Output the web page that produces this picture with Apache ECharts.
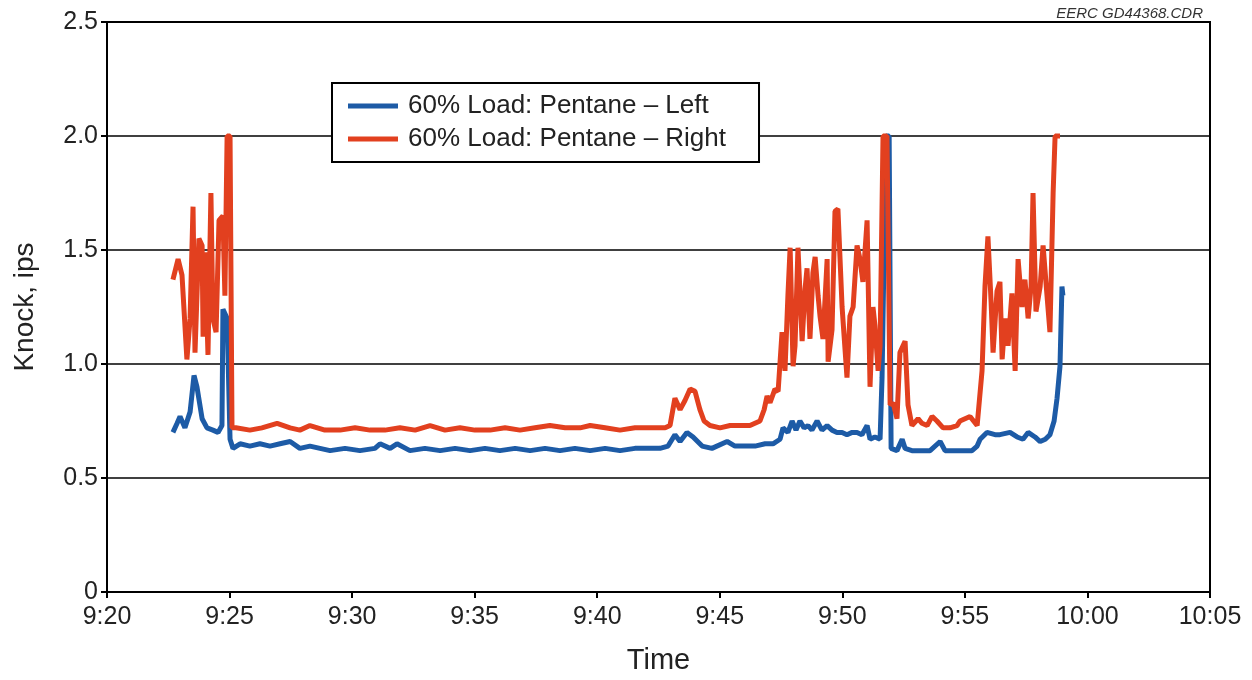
<!DOCTYPE html>
<html>
<head>
<meta charset="utf-8">
<script src="https://cdn.jsdelivr.net/npm/echarts@6/dist/echarts.min.js"></script>
<style>
  html, body { margin: 0; padding: 0; background: #ffffff; }
  #chart { width: 1252px; height: 680px; }
</style>
</head>
<body>
<div id="chart"></div>
<script>
// Time axis: minutes after 9:20
const xTickLabels = ['9:20', '9:25', '9:30', '9:35', '9:40', '9:45', '9:50', '9:55', '10:00', '10:05'];
const yTickLabels = ['0', '0.5', '1.0', '1.5', '2.0', '2.5'];

const seriesNames = ['60% Load: Pentane \u2013 Left', '60% Load: Pentane \u2013 Right'];

// Left-side knock sensor
const leftTime = [
  2.69, 2.86, 2.98, 3.18, 3.39, 3.55, 3.67, 3.88, 4.08, 4.32, 4.53, 4.69, 4.73, 4.90, 5.02, 5.14,
  5.43, 5.83, 6.24, 6.65, 7.06, 7.47, 7.87, 8.28, 8.69, 9.10, 9.71, 10.32, 10.93, 11.14, 11.55, 11.83,
  12.36, 12.97, 13.59, 14.20, 14.81, 15.42, 16.03, 16.65, 17.26, 17.87, 18.48, 19.09, 19.71, 20.32,
  20.93, 21.54, 22.15, 22.56, 22.89, 23.17, 23.38, 23.66, 23.91, 24.28, 24.68, 25.30, 25.62, 25.95,
  26.44, 26.85, 27.17, 27.46, 27.58, 27.78, 27.95, 28.11, 28.27, 28.44, 28.60, 28.76, 28.97, 29.17,
  29.38, 29.58, 29.78, 29.99, 30.19, 30.40, 30.60, 30.80, 31.01, 31.13, 31.33, 31.54, 31.62, 31.78,
  31.91, 31.99, 32.23, 32.44, 32.56, 32.84, 33.17, 33.58, 33.99, 34.19, 34.60, 35.01, 35.29, 35.50,
  35.62, 35.90, 36.23, 36.43, 36.84, 37.13, 37.37, 37.58, 37.86, 38.07, 38.28, 38.47, 38.64, 38.76,
  38.88, 38.96, 39.00
];
const leftKnock = [
  0.70, 0.74, 0.77, 0.72, 0.79, 0.95, 0.90, 0.76, 0.72, 0.71, 0.70, 0.73, 1.24, 1.20, 0.67, 0.63,
  0.65, 0.64, 0.65, 0.64, 0.65, 0.66, 0.63, 0.64, 0.63, 0.62, 0.63, 0.62, 0.63, 0.65, 0.63, 0.65,
  0.62, 0.63, 0.62, 0.63, 0.62, 0.63, 0.62, 0.63, 0.62, 0.63, 0.62, 0.63, 0.62, 0.63,
  0.62, 0.63, 0.63, 0.63, 0.64, 0.69, 0.66, 0.70, 0.68, 0.64, 0.63, 0.66, 0.64, 0.64,
  0.64, 0.65, 0.65, 0.67, 0.72, 0.70, 0.75, 0.71, 0.75, 0.72, 0.73, 0.71, 0.75, 0.71,
  0.73, 0.71, 0.70, 0.70, 0.69, 0.70, 0.70, 0.69, 0.73, 0.67, 0.68, 0.67, 0.94, 2.00,
  2.00, 0.63, 0.62, 0.67, 0.63, 0.62, 0.62, 0.62, 0.66, 0.62, 0.62, 0.62, 0.62, 0.64,
  0.67, 0.70, 0.69, 0.69, 0.70, 0.68, 0.67, 0.70, 0.68, 0.66, 0.67, 0.69, 0.75, 0.85,
  0.99, 1.34, 1.30
];

// Right-side knock sensor
const rightTime = [
  2.69, 2.90, 3.06, 3.26, 3.39, 3.51, 3.59, 3.75, 3.88, 3.92, 4.00, 4.12, 4.24, 4.32, 4.45, 4.57,
  4.73, 4.81, 4.90, 5.02, 5.10, 5.26, 5.83, 6.32, 6.94, 7.47, 7.87, 8.28, 8.89, 9.51, 10.12, 10.73,
  11.34, 11.95, 12.57, 13.18, 13.79, 14.40, 15.01, 15.63, 16.24, 16.85, 17.46, 18.07, 18.69, 19.30,
  19.71, 20.32, 20.93, 21.54, 22.15, 22.77, 22.97, 23.17, 23.38, 23.58, 23.79, 23.99, 24.19, 24.36,
  24.60, 25.01, 25.42, 25.83, 26.23, 26.64, 26.81, 26.93, 27.05, 27.25, 27.38, 27.54, 27.66, 27.78,
  27.87, 27.99, 28.07, 28.19, 28.36, 28.48, 28.56, 28.68, 28.80, 28.89, 29.01, 29.09, 29.21, 29.38,
  29.42, 29.58, 29.70, 29.82, 29.99, 30.19, 30.31, 30.44, 30.60, 30.72, 30.84, 31.01, 31.13, 31.25,
  31.33, 31.46, 31.54, 31.66, 31.82, 31.95, 32.07, 32.23, 32.35, 32.56, 32.68, 32.84, 33.09, 33.25,
  33.46, 33.66, 33.86, 34.11, 34.39, 34.68, 34.80, 35.21, 35.50, 35.70, 35.82, 35.94, 36.07, 36.15,
  36.31, 36.43, 36.52, 36.64, 36.76, 36.92, 37.05, 37.17, 37.33, 37.45, 37.58, 37.70, 37.78, 37.90,
  38.07, 38.19, 38.35, 38.47, 38.60, 38.68, 38.88
];
const rightKnock = [
  1.37, 1.46, 1.39, 1.02, 1.20, 1.69, 1.05, 1.55, 1.52, 1.12, 1.49, 1.04, 1.75, 1.20, 1.14, 1.63,
  1.65, 1.30, 2.00, 2.00, 0.72, 0.72, 0.71, 0.72, 0.74, 0.72, 0.71, 0.73, 0.71, 0.71, 0.72, 0.71,
  0.71, 0.72, 0.71, 0.73, 0.71, 0.72, 0.71, 0.71, 0.72, 0.71, 0.72, 0.73, 0.72, 0.72,
  0.73, 0.72, 0.71, 0.72, 0.72, 0.72, 0.73, 0.85, 0.80, 0.84, 0.89, 0.88, 0.80, 0.75,
  0.73, 0.72, 0.73, 0.73, 0.73, 0.75, 0.80, 0.86, 0.83, 0.89, 0.88, 1.14, 0.97, 1.30,
  1.51, 0.99, 1.08, 1.51, 1.10, 1.33, 1.42, 1.11, 1.40, 1.47, 1.30, 1.21, 1.11, 1.46,
  1.01, 1.15, 1.67, 1.68, 1.25, 0.94, 1.21, 1.25, 1.52, 1.46, 1.36, 1.63, 0.90, 1.25,
  1.17, 0.97, 1.08, 2.00, 2.00, 0.82, 0.83, 0.76, 1.05, 1.10, 0.82, 0.73, 0.76, 0.74,
  0.73, 0.77, 0.75, 0.72, 0.72, 0.73, 0.75, 0.77, 0.73, 0.97, 1.34, 1.56, 1.27, 1.05,
  1.32, 1.36, 1.02, 1.20, 1.08, 1.31, 0.97, 1.46, 1.25, 1.37, 1.20, 1.34, 1.75, 1.23,
  1.34, 1.52, 1.30, 1.14, 1.75, 2.00, 2.00
];

const zip = (xs, ys) => xs.map((x, i) => [x, ys[i]]);

const FONT = '"Liberation Sans", Arial, sans-serif';
const TEXT = '#222222';
const BLUE = '#1d5ba6';
const RED = '#e2401f';

const chart = echarts.init(document.getElementById('chart'), null, { renderer: 'canvas' });

chart.setOption({
  backgroundColor: '#ffffff',
  animation: false,
  title: {
    text: 'EERC GD44368.CDR',
    right: 44,
    top: 1,
    textStyle: { fontFamily: FONT, fontSize: 15, fontStyle: 'italic', fontWeight: 'normal', color: '#333' }
  },
  grid: {
    left: 107, right: 42, top: 22, bottom: 86,
    show: true, borderColor: '#000', borderWidth: 2, backgroundColor: 'transparent'
  },
  legend: {
    orient: 'vertical',
    left: 332,
    top: 83,
    padding: [10, 33, 10, 16],
    itemGap: 7,
    itemWidth: 50,
    itemHeight: 5,
    borderColor: '#000',
    borderWidth: 2,
    backgroundColor: '#fff',
    textStyle: { fontFamily: FONT, fontSize: 26, color: TEXT, padding: [0, 0, 0, 5] },
    data: [
      { name: seriesNames[0], icon: 'rect' },
      { name: seriesNames[1], icon: 'rect' }
    ]
  },
  xAxis: {
    type: 'value',
    min: 0,
    max: 45,
    interval: 5,
    name: 'Time',
    nameLocation: 'middle',
    nameGap: 54,
    nameTextStyle: { fontFamily: FONT, fontSize: 29, color: TEXT },
    axisLine: { lineStyle: { color: '#000', width: 2 } },
    axisTick: { show: true, length: 6, lineStyle: { color: '#000', width: 2 } },
    splitLine: { show: false },
    axisLabel: {
      fontFamily: FONT, fontSize: 25, color: TEXT, margin: 13,
      formatter: v => xTickLabels[Math.round(v / 5)]
    }
  },
  yAxis: {
    type: 'value',
    min: 0,
    max: 2.5,
    interval: 0.5,
    name: 'Knock, ips',
    nameLocation: 'middle',
    nameGap: 68,
    nameRotate: 90,
    nameTextStyle: { fontFamily: FONT, fontSize: 28, color: TEXT },
    axisLine: { show: true, lineStyle: { color: '#000', width: 2 } },
    axisTick: { show: true, length: 6, lineStyle: { color: '#000', width: 2 } },
    splitLine: { show: true, lineStyle: { color: '#000', width: 1.6 } },
    axisLabel: {
      fontFamily: FONT, fontSize: 25, color: TEXT, margin: 9,
      formatter: v => yTickLabels[Math.round(v / 0.5)]
    }
  },
  series: [
    {
      name: seriesNames[0],
      type: 'line',
      data: zip(leftTime, leftKnock),
      showSymbol: false,
      color: BLUE,
      lineStyle: { color: BLUE, width: 5 },
      z: 2
    },
    {
      name: seriesNames[1],
      type: 'line',
      data: zip(rightTime, rightKnock),
      showSymbol: false,
      color: RED,
      lineStyle: { color: RED, width: 5 },
      z: 3
    }
  ]
});
</script>
</body>
</html>
